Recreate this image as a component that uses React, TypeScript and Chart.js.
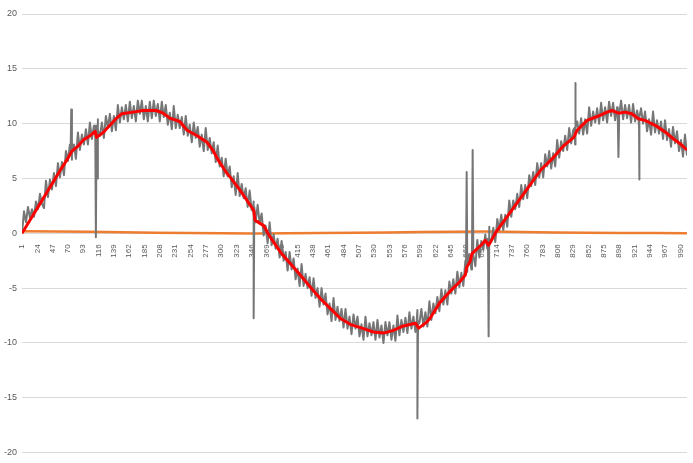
import { useEffect, useRef } from "react";
import { Chart, registerables } from "chart.js";

Chart.register(...registerables);

// x-axis tick labels (category numbers shown on the axis)
const tickLabels = [
  "1", "24", "47", "70", "93", "116", "139", "162", "185", "208", "231", "254",
  "277", "300", "323", "346", "369", "392", "415", "438", "461", "484", "507",
  "530", "553", "576", "599", "622", "645", "668", "691", "714", "737", "760",
  "783", "806", "829", "852", "875", "898", "921", "944", "967", "990",
];

const categoryCount = 1000;

// gray (raw) series, read every 3 categories starting at category 1
const grayStep = 3;
const grayValues = [
  0, 2.0, 1.0, 2.4, 1.4, 2.2, 1.5, 2.9, 2.2, 3.6,
  2.7, 2.3, 4.8, 3.3, 4.9, 4.0, 5.5, 4.3, 6.4, 5.1,
  6.5, 5.3, 7.5, 6.6, 8.1, 6.7, 8.1, 6.8, 9.2, 7.6,
  9.0, 8.1, 9.5, 8.1, 10.1, 8.6, 9.8, 8.4, 10.4, 8.9,
  10.1, 8.7, 10.7, 9.6, 10.9, 9.3, 10.7, 9.4, 11.7, 10.1,
  11.5, 10.4, 11.7, 10.2, 12.0, 10.5, 11.6, 10.2, 12.1, 10.9,
  12.1, 10.4, 11.6, 10.2, 12.0, 10.5, 12.1, 10.7, 11.8, 10.2,
  12.0, 10.6, 11.7, 9.9, 11.0, 9.5, 11.6, 9.6, 10.8, 9.6,
  10.6, 9.0, 10.7, 8.9, 9.9, 8.3, 10.1, 8.7, 9.7, 7.9,
  9.0, 7.5, 9.6, 7.6, 8.7, 7.3, 8.3, 6.5, 8.0, 6.1,
  6.9, 5.2, 6.8, 5.2, 6.1, 4.2, 5.2, 3.5, 5.5, 3.4,
  4.5, 3.2, 4.1, 2.4, 3.9, 2.1, 2.9, 1.0, 2.6, 0.9,
  1.8, -0.2, 0.7, -0.9, 1.0, -1.1, -0.1, -1.4, -0.5, -2.2,
  -0.7, -2.5, -1.7, -3.4, -1.7, -3.3, -2.3, -4.2, -3.2, -4.8,
  -2.8, -4.8, -3.7, -5.0, -4.0, -5.7, -4.1, -5.9, -5.0, -6.7,
  -5.0, -6.5, -5.5, -7.4, -6.4, -8.0, -5.9, -7.9, -6.7, -8.0,
  -6.9, -8.6, -6.9, -8.7, -7.6, -9.2, -7.4, -8.7, -7.6, -9.4,
  -8.3, -9.7, -7.6, -9.4, -8.2, -9.3, -8.1, -9.7, -7.9, -9.5,
  -8.4, -10.0, -8.1, -9.3, -8.1, -9.7, -8.4, -9.8, -7.5, -9.3,
  -7.9, -9.0, -7.7, -9.1, -7.2, -8.7, -7.6, -9.0, -7.0, -8.2,
  -6.9, -8.5, -7.2, -8.5, -6.2, -7.9, -6.4, -7.3, -5.8, -7.1,
  -5.1, -6.5, -5.2, -6.5, -4.4, -5.5, -4.2, -5.5, -3.5, -4.9,
  -3.6, -4.8, -2.5, -3.5, -1.9, -3.3, -1.9, -3.0, -0.6, -2.2,
  -0.7, -1.5, -0.1, -1.4, 0.6, -0.8, 0.5, -0.8, 1.3, 0.3,
  1.7, 0.3, 1.7, 0.6, 3.0, 1.5, 3.0, 2.2, 3.6, 2.4,
  4.4, 3.1, 4.4, 3.2, 5.3, 4.3, 5.6, 4.4, 6.4, 5.1,
  6.4, 5.1, 7.2, 6.1, 7.5, 5.9, 7.3, 6.1, 8.5, 6.9,
  8.4, 7.5, 8.9, 7.6, 9.6, 8.2, 9.4, 8.1, 10.2, 9.1,
  10.5, 9.0, 10.4, 9.1, 11.5, 9.8, 11.1, 10.1, 11.4, 10.0,
  11.9, 10.3, 11.5, 10.1, 12.0, 10.7, 11.9, 10.3, 11.5, 10.1,
  12.1, 10.4, 11.7, 10.5, 11.7, 10.1, 11.8, 10.2, 11.2, 9.6,
  11.4, 10.0, 11.1, 9.3, 10.4, 9.0, 11.1, 9.2, 10.3, 9.1,
  10.2, 8.6, 10.3, 8.5, 9.5, 7.9, 9.7, 8.2, 9.3, 7.5,
  8.5, 7.0, 9.0, 7.1,
];

// single-category spikes in the gray series
const spikeAt = [74, 111, 113, 348, 594, 668, 677, 701, 831, 896, 927];
const spikeValue = [11.3, -0.35, 5.0, -7.75, -16.9, 5.6, 7.6, -9.4, 13.7, 6.95, 4.9];
const spikeFoot = [7.2, 9.8, 9.4, 2.4, -8.0, -3.0, -2.0, -0.5, 9.6, 10.8, 10.6];

// red (smoothed) series
const redAt = [
  0, 30, 57, 67, 75, 85, 92, 100, 110, 112, 122, 132, 142, 150, 167, 182, 202,
  212, 222, 237, 248, 263, 278, 287, 295, 308, 313, 328, 348, 350, 363, 373,
  388, 403, 418, 433, 448, 463, 478, 493, 513, 528, 543, 558, 573, 591, 596,
  608, 613, 628, 643, 658, 666, 668, 673, 676, 691, 696, 701, 713, 749, 779,
  799, 814, 829, 834, 849, 864, 879, 886, 896, 906, 916, 926, 936, 951, 966,
  979, 989, 999,
];
const redValues = [
  0, 3.0, 5.7, 6.65, 7.5, 8.0, 8.5, 8.8, 9.3, 8.75, 9.2, 9.85, 10.5, 10.9,
  11.05, 11.2, 11.2, 10.95, 10.5, 10.2, 9.4, 8.9, 8.3, 7.55, 6.65, 5.45, 5.1,
  3.9, 2.1, 1.2, 0.7, -0.35, -1.7, -2.75, -3.8, -4.9, -5.95, -6.85, -7.75,
  -8.3, -8.7, -9.0, -9.1, -8.85, -8.45, -8.2, -8.65, -8.1, -7.75, -6.3, -5.3,
  -4.4, -3.8, -3.1, -2.6, -1.85, -1.0, -0.64, -1.1, 0.2, 3.2, 5.75, 6.95, 8.0,
  8.75, 9.4, 10.3, 10.65, 11.05, 11.2, 10.95, 11.05, 10.9, 10.45, 10.3, 9.85,
  9.25, 8.6, 8.15, 7.6,
];

// orange series
const orangeAt = [0, 50, 100, 150, 200, 250, 300, 350, 400, 450, 500, 550, 600, 650, 700, 750, 800, 850, 900, 950, 999];
const orangeValues = [0.18, 0.16, 0.15, 0.1, 0.06, 0.03, 0.0, -0.02, 0.0, 0.02, 0.05, 0.08, 0.12, 0.15, 0.16, 0.12, 0.08, 0.05, 0.03, 0.02, 0.0];

const yMin = -20;
const yMax = 20;
const yStep = 5;

function buildGray() {
  const pts: { x: number; y: number }[] = grayValues.map((v, k) => ({ x: k * grayStep, y: v }));
  spikeAt.forEach((at, k) => {
    pts.push({ x: at - 1, y: spikeFoot[k] });
    pts.push({ x: at, y: spikeValue[k] });
    pts.push({ x: at + 1, y: spikeFoot[k] });
  });
  return pts
    .map((p, idx) => ({ p, idx }))
    .sort((a, b) => a.p.x - b.p.x || a.idx - b.idx)
    .map((o) => o.p);
}

export default function App() {
  const ref = useRef<HTMLCanvasElement | null>(null);

  useEffect(() => {
    if (!ref.current) return;
    const font = { family: "'Liberation Sans', Arial, sans-serif", size: 9 };
    const chart = new Chart(ref.current, {
      type: "line",
      data: {
        datasets: [
          {
            label: "smoothed",
            data: redAt.map((x, k) => ({ x, y: redValues[k] })),
            borderColor: "#ff0000",
            borderWidth: 3,
            pointRadius: 0,
            tension: 0,
            borderJoinStyle: "round",
          },
          {
            label: "raw",
            data: buildGray(),
            borderColor: "#767676",
            borderWidth: 2,
            pointRadius: 0,
            tension: 0,
            borderJoinStyle: "round",
          },
          {
            label: "offset",
            data: orangeAt.map((x, k) => ({ x, y: orangeValues[k] })),
            borderColor: "#ed7d31",
            borderWidth: 2.5,
            pointRadius: 0,
            tension: 0,
          },
        ],
      },
      options: {
        animation: false,
        responsive: false,
        parsing: false,
        normalized: true,
        layout: { padding: { top: 14, right: 6, bottom: 10, left: 0 } },
        plugins: { legend: { display: false }, tooltip: { enabled: false } },
        scales: {
          x: {
            type: "linear",
            min: 0,
            max: categoryCount - 1,
            position: { y: 0 },
            grid: { display: false },
            border: { display: false },
            afterBuildTicks: (s: any) => {
              s.ticks = tickLabels.map((l) => ({ value: Number(l) - 1 }));
            },
            ticks: {
              autoSkip: false,
              minRotation: 90,
              maxRotation: 90,
              padding: 3,
              color: "#595959",
              font: { ...font, size: 8 },
              callback: (_v: any, i: number) => tickLabels[i],
            },
          },
          y: {
            type: "linear",
            min: yMin,
            max: yMax,
            afterFit: (s: any) => {
              s.width = 22;
            },
            grid: { color: "#d9d9d9", drawTicks: false },
            border: { display: false },
            ticks: { stepSize: yStep, padding: 5, color: "#595959", font },
          },
        },
      },
    });
    return () => chart.destroy();
  }, []);

  return (
    <div style={{ position: "absolute", left: 0, top: 0, width: 693, height: 463, background: "#fff" }}>
      <canvas ref={ref} width={693} height={463} style={{ display: "block" }} />
    </div>
  );
}
